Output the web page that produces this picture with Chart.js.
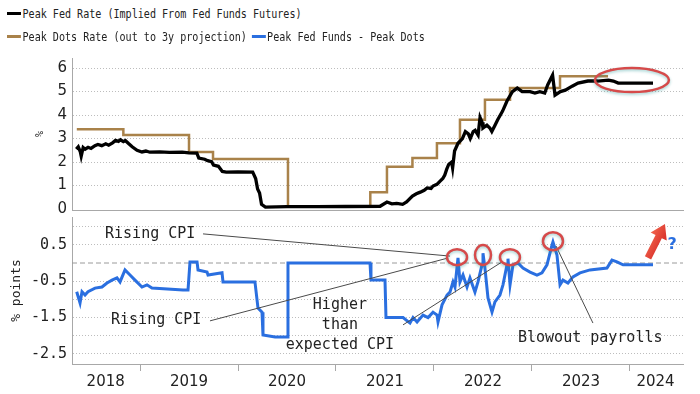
<!DOCTYPE html>
<html>
<head>
<meta charset="utf-8">
<script src="https://cdn.jsdelivr.net/npm/chart.js@4.4.1/dist/chart.umd.min.js"></script>
<style>
    html, body { margin: 0; padding: 0; background: #fff; }
    #wrap { position: relative; width: 700px; height: 394px; overflow: hidden; background: #fff; }
    #topChart { position: absolute; left: 0; top: 40px; }
    #botChart { position: absolute; left: 0; top: 200px; }
    .row { position: absolute; left: 7px; height: 20px; line-height: 20px; white-space: nowrap;
           font-family: 'DejaVu Sans Mono', monospace; font-size: 13px; color: #222;
           transform-origin: 0 50%; transform: scaleX(0.775); z-index: 2; }
    .mk { display: inline-block; width: 18px; height: 3px; vertical-align: middle; margin-right: 2px; position: relative; top: -1px; }
</style>
</head>
<body>
<div id="wrap">
    <div class="row" style="top:4px"><span class="mk" style="background:#000"></span>Peak Fed Rate (Implied From Fed Funds Futures)</div>
    <div class="row" style="top:27px"><span class="mk" style="background:#a9824a"></span>Peak Dots Rate (out to 3y projection)<span class="mk" style="background:#2a6fe0;margin-left:6px"></span>Peak Fed Funds - Peak Dots</div>
    <canvas id="topChart" width="700" height="195"></canvas>
    <canvas id="botChart" width="700" height="194"></canvas>
</div>
<script>
// Datos (x = fecha en anos decimales)
const fedX = [2018.35, 2018.37, 2018.39, 2018.40, 2018.42, 2018.44, 2018.47, 2018.50, 2018.54, 2018.57,
    2018.61, 2018.65, 2018.68, 2018.72, 2018.75, 2018.78, 2018.80, 2018.83, 2018.85, 2018.88,
    2018.92, 2018.97, 2019.02, 2019.06, 2019.10, 2019.20, 2019.30, 2019.43, 2019.50, 2019.58,
    2019.60, 2019.66, 2019.69, 2019.73, 2019.75, 2019.80, 2019.84, 2019.88, 2020.00, 2020.15,
    2020.18, 2020.20, 2020.22, 2020.24, 2020.28, 2020.50, 2020.80, 2021.10, 2021.45, 2021.52,
    2021.57, 2021.62, 2021.68, 2021.72, 2021.78, 2021.82, 2021.86, 2021.90, 2021.93, 2021.97,
    2021.99, 2022.03, 2022.06, 2022.09, 2022.11, 2022.13, 2022.15, 2022.18, 2022.19, 2022.21,
    2022.245, 2022.29, 2022.32, 2022.35, 2022.37, 2022.40, 2022.42, 2022.45, 2022.47, 2022.49,
    2022.50, 2022.54, 2022.57, 2022.59, 2022.62, 2022.65, 2022.70, 2022.745, 2022.80, 2022.85,
    2022.90, 2022.98, 2023.03, 2023.08, 2023.13, 2023.16, 2023.21, 2023.235, 2023.29, 2023.34,
    2023.41, 2023.47, 2023.57, 2023.67, 2023.78, 2023.83, 2023.88, 2023.98, 2024.235];
const fedY = [2.55, 2.65, 2.45, 2.25, 2.62, 2.55, 2.63, 2.58, 2.70, 2.75,
    2.70, 2.78, 2.72, 2.82, 2.92, 2.88, 2.95, 2.87, 2.92, 2.80,
    2.65, 2.50, 2.43, 2.47, 2.42, 2.43, 2.41, 2.42, 2.39, 2.38,
    2.17, 2.12, 2.06, 2.02, 1.87, 1.82, 1.60, 1.57, 1.58, 1.57,
    1.30, 0.85, 0.68, 0.20, 0.08, 0.10, 0.10, 0.11, 0.12, 0.30,
    0.22, 0.24, 0.20, 0.30, 0.55, 0.65, 0.72, 0.80, 0.90, 0.88,
    0.98, 1.05, 1.18, 1.30, 1.45, 1.70, 1.90, 2.00, 1.75, 2.47,
    2.80, 3.00, 3.30, 3.20, 3.00, 3.30, 3.35, 3.15, 3.90, 3.70,
    3.45, 3.57, 3.45, 3.30, 3.55, 3.80, 4.17, 4.60, 5.00, 5.15,
    5.00, 5.00, 4.94, 5.00, 4.94, 5.28, 5.70, 4.85, 5.00, 5.06,
    5.23, 5.36, 5.45, 5.45, 5.49, 5.45, 5.36, 5.36, 5.36];

// Escalones de los dots (inicio de cada nivel)
const dotsX = [2018.355, 2018.83, 2019.50, 2019.745, 2020.51, 2021.35, 2021.52, 2021.78, 2022.03,
    2022.265, 2022.52, 2022.776, 2023.286, 2023.776];
const dotsY = [3.40, 3.15, 2.43, 2.13, 0.12, 0.72, 1.80, 2.17, 2.80,
    3.80, 4.65, 5.15, 5.65, 5.65];

const gapX = [2018.354, 2018.388, 2018.408, 2018.439, 2018.469, 2018.541, 2018.612, 2018.663, 2018.714, 2018.765,
    2018.796, 2018.847, 2018.898, 2018.949, 2019.020, 2019.071, 2019.122, 2019.439, 2019.490, 2019.510,
    2019.582, 2019.592, 2019.684, 2019.694, 2019.837, 2019.847, 2020.173, 2020.204, 2020.245, 2020.255,
    2020.378, 2020.500, 2020.510, 2021.347, 2021.357, 2021.500, 2021.510, 2021.684, 2021.755, 2021.786,
    2021.827, 2021.888, 2021.939, 2021.990, 2022.031, 2022.041, 2022.082, 2022.133, 2022.163, 2022.194,
    2022.214, 2022.245, 2022.265, 2022.296, 2022.337, 2022.367, 2022.418, 2022.449, 2022.490, 2022.500,
    2022.520, 2022.551, 2022.592, 2022.622, 2022.673, 2022.704, 2022.745, 2022.755, 2022.776, 2022.806,
    2022.857, 2022.908, 2022.980, 2023.051, 2023.102, 2023.153, 2023.204, 2023.214, 2023.255, 2023.286,
    2023.316, 2023.367, 2023.418, 2023.490, 2023.592, 2023.765, 2023.816, 2023.867, 2023.929, 2024.235];
const gapY = [-0.79, -1.10, -0.79, -0.88, -0.79, -0.69, -0.66, -0.55, -0.47, -0.41,
    -0.52, -0.19, -0.33, -0.47, -0.66, -0.60, -0.69, -0.74, -0.74, 0.03,
    0.03, -0.19, -0.25, -0.33, -0.27, -0.52, -0.52, -1.24, -1.35, -1.98,
    -2.03, -2.03, 0.00, 0.00, -0.47, -0.47, -1.50, -1.50, -1.65, -1.50,
    -1.62, -1.43, -1.50, -1.35, -1.43, -1.62, -1.15, -0.88, -0.80, -0.52,
    -0.66, 0.14, -0.52, -0.33, -0.66, -0.41, -0.80, -0.52, -0.05, 0.27,
    -0.14, -0.96, -1.35, -1.07, -0.88, -0.60, -0.05, 0.12, -0.60, -0.05,
    0.00, -0.14, -0.25, -0.33, -0.27, -0.05, 0.49, 0.58, 0.22, -0.60,
    -0.47, -0.55, -0.38, -0.27, -0.19, -0.14, 0.08, 0.03, -0.05, -0.05];

// Ejes
const topTicks = [0, 1, 2, 3, 4, 5, 6];
const botTicks = [-2.5, -2, -1.5, -1, -0.5, 0, 0.5, 1];
const botTickLabels = ['-2.5', '', '-1.5', '', '-0.5', '', '0.5', ''];
const yearBreaks = [2019, 2020, 2021, 2022, 2023, 2024];
const yearLabelPos = [2018.65, 2019.5, 2020.5, 2021.5, 2022.5, 2023.5, 2024.26];
const yearLabels = ['2018', '2019', '2020', '2021', '2022', '2023', '2024'];
const xMin = 2018.306, xMax = 2024.541;

const pts = (xs, ys) => xs.map((x, i) => ({ x: x, y: ys[i] }));

const ink = '#222';
const gridGrey = '#bdbdbd';
const axisGrey = '#a8a8a8';

function ellipse(ctx, cx, cy, rx, ry) {
    ctx.save();
    ctx.strokeStyle = '#d64a4a';
    ctx.lineWidth = 2.5;
    ctx.shadowColor = 'rgba(40,150,150,0.45)';
    ctx.shadowBlur = 3;
    ctx.shadowOffsetY = 1.5;
    ctx.beginPath();
    ctx.ellipse(cx, cy, rx, ry, 0, 0, Math.PI * 2);
    ctx.stroke();
    ctx.restore();
}

// Ovalo del panel superior
const topMarks = {
    id: 'topMarks',
    afterDatasetsDraw(chart) {
        const { ctx, scales: { x, y } } = chart;
        ellipse(ctx, x.getPixelForValue(2024.02), y.getPixelForValue(5.49), 37, 12);
    }
};

// Linea cero, notas, ovalos y flecha del panel inferior
const botMarks = {
    id: 'botMarks',
    beforeDatasetsDraw(chart) {
        const { ctx, chartArea, scales: { y } } = chart;
        const y0 = y.getPixelForValue(0);
        ctx.save();
        ctx.strokeStyle = '#9a9a9a';
        ctx.lineWidth = 1;
        ctx.setLineDash([5, 3]);
        ctx.beginPath();
        ctx.moveTo(chartArea.left, y0);
        ctx.lineTo(chartArea.right, y0);
        ctx.stroke();
        ctx.restore();
    },
    afterDatasetsDraw(chart) {
        const { ctx, scales: { x, y } } = chart;
        const px = v => x.getPixelForValue(v);
        const py = v => y.getPixelForValue(v);

        // lineas guia
        const leaders = [
            [2019.643, 0.80, 2022.163, 0.19],
            [2019.714, -1.59, 2022.133, 0.13],
            [2021.684, -1.70, 2022.694, 0.03],
            [2023.622, -1.65, 2023.245, 0.47]
        ];
        ctx.save();
        ctx.strokeStyle = '#4a4a4a';
        ctx.lineWidth = 1;
        leaders.forEach(l => {
            ctx.beginPath();
            ctx.moveTo(px(l[0]), py(l[1]));
            ctx.lineTo(px(l[2]), py(l[3]));
            ctx.stroke();
        });
        ctx.restore();

        // textos
        ctx.save();
        ctx.fillStyle = ink;
        ctx.font = '15px "DejaVu Sans Mono", monospace';
        ctx.textBaseline = 'middle';
        ctx.textAlign = 'left';
        ctx.fillText('Rising CPI', px(2018.643), py(0.80));
        ctx.fillText('Rising CPI', px(2018.704), py(-1.57));
        ctx.fillText('Blowout payrolls', px(2022.857), py(-2.06));
        ctx.textAlign = 'center';
        ['Higher', 'than', 'expected CPI'].forEach((t, i) => {
            ctx.fillText(t, px(2021.04), py(-1.15) + i * 20);
        });
        ctx.restore();

        // ovalos
        ellipse(ctx, px(2022.235), py(0.16), 10, 8);
        ellipse(ctx, px(2022.50), py(0.22), 8, 10);
        ellipse(ctx, px(2022.775), py(0.16), 10, 8);
        ellipse(ctx, px(2023.214), py(0.60), 10, 9);

        // flecha roja
        const x1 = px(2024.184), y1 = py(0.14), x2 = px(2024.357), y2 = py(1.07);
        const ang = Math.atan2(y2 - y1, x2 - x1);
        const len = Math.hypot(x2 - x1, y2 - y1);
        ctx.save();
        ctx.translate(x1, y1);
        ctx.rotate(ang);
        const grad = ctx.createLinearGradient(0, -8, 0, 8);
        grad.addColorStop(0, '#f0604a');
        grad.addColorStop(1, '#d8302a');
        ctx.fillStyle = grad;
        ctx.beginPath();
        ctx.moveTo(0, -3.5);
        ctx.lineTo(len - 14, -3.5);
        ctx.lineTo(len - 14, -9);
        ctx.lineTo(len, 0);
        ctx.lineTo(len - 14, 9);
        ctx.lineTo(len - 14, 3.5);
        ctx.lineTo(0, 3.5);
        ctx.closePath();
        ctx.fill();
        ctx.restore();

        ctx.save();
        ctx.fillStyle = '#2a6fe0';
        ctx.font = 'bold 16px "DejaVu Sans", sans-serif';
        ctx.textAlign = 'center';
        ctx.textBaseline = 'middle';
        ctx.fillText('?', px(2024.43), py(0.49));
        ctx.restore();
    }
};

// Panel superior
new Chart(document.getElementById('topChart'), {
    type: 'line',
    data: {
        datasets: [{
            label: 'Peak Fed Rate (Implied From Fed Funds Futures)',
            data: pts(fedX, fedY),
            borderColor: '#000',
            borderWidth: 3.3,
            pointRadius: 0,
            tension: 0
        }, {
            label: 'Peak Dots Rate (out to 3y projection)',
            data: pts(dotsX, dotsY),
            borderColor: '#a9824a',
            borderWidth: 2.5,
            pointRadius: 0,
            stepped: 'before'
        }]
    },
    options: {
        responsive: false,
        animation: false,
        events: [],
        layout: { padding: { left: 0, right: 17, top: 18, bottom: 25 } },
        plugins: { legend: { display: false }, tooltip: { enabled: false } },
        scales: {
            x: {
                type: 'linear', min: xMin, max: xMax,
                ticks: { display: false },
                grid: { display: false },
                border: { display: true, color: axisGrey },
                afterFit(s) { s.height = 0; }
            },
            y: {
                min: -0.04, max: 6.43,
                afterFit(s) { s.width = 72; },
                afterBuildTicks(s) { s.ticks = topTicks.map(v => ({ value: v })); },
                ticks: { padding: 5, color: ink, font: { family: 'DejaVu Sans', size: 15 } },
                grid: { drawTicks: false, color: ctx => ctx.tick && ctx.tick.value === 0 ? 'transparent' : gridGrey },
                border: { display: true, color: axisGrey, dash: [1, 2] },
                title: { display: true, text: '%', color: ink, font: { family: 'DejaVu Sans Mono', size: 10 }, padding: { top: 34, bottom: 0 } }
            }
        }
    },
    plugins: [topMarks]
});

// Panel inferior
new Chart(document.getElementById('botChart'), {
    type: 'line',
    data: {
        datasets: [{
            label: 'Peak Fed Funds - Peak Dots',
            data: pts(gapX, gapY),
            borderColor: '#2a6fe0',
            borderWidth: 3,
            pointRadius: 0,
            tension: 0
        }]
    },
    options: {
        responsive: false,
        animation: false,
        events: [],
        layout: { padding: { left: 0, right: 17, top: 17, bottom: 0 } },
        plugins: { legend: { display: false }, tooltip: { enabled: false } },
        scales: {
            x: {
                type: 'linear', min: xMin, max: xMax,
                afterBuildTicks(s) {
                    s.ticks = yearBreaks.concat(yearLabelPos).sort((a, b) => a - b).map(v => ({ value: v }));
                },
                afterFit(s) { s.height = 30; },
                ticks: {
                    autoSkip: false, maxRotation: 0, padding: 2, color: ink,
                    font: { family: 'DejaVu Sans', size: 15 },
                    callback: v => {
                        const i = yearLabelPos.indexOf(v);
                        return i >= 0 ? yearLabels[i] : '';
                    }
                },
                grid: {
                    drawOnChartArea: false, drawTicks: true, tickLength: 7,
                    tickColor: ctx => ctx.tick && yearBreaks.includes(ctx.tick.value) ? axisGrey : 'transparent'
                },
                border: { display: true, color: axisGrey }
            },
            y: {
                min: -2.775, max: 1.264,
                afterFit(s) { s.width = 72; },
                afterBuildTicks(s) { s.ticks = botTicks.map(v => ({ value: v })); },
                ticks: {
                    padding: 5, color: ink, font: { family: 'DejaVu Sans Mono', size: 15 },
                    callback: (v, i) => botTickLabels[i]
                },
                grid: { drawTicks: false, color: ctx => ctx.tick && ctx.tick.value === 0 ? 'transparent' : gridGrey },
                border: { display: true, color: axisGrey, dash: [1, 2] },
                title: { display: true, text: '% points', color: ink, font: { family: 'DejaVu Sans Mono', size: 13 }, padding: { top: 9, bottom: 0 } }
            }
        }
    },
    plugins: [botMarks]
});
</script>
</body>
</html>
